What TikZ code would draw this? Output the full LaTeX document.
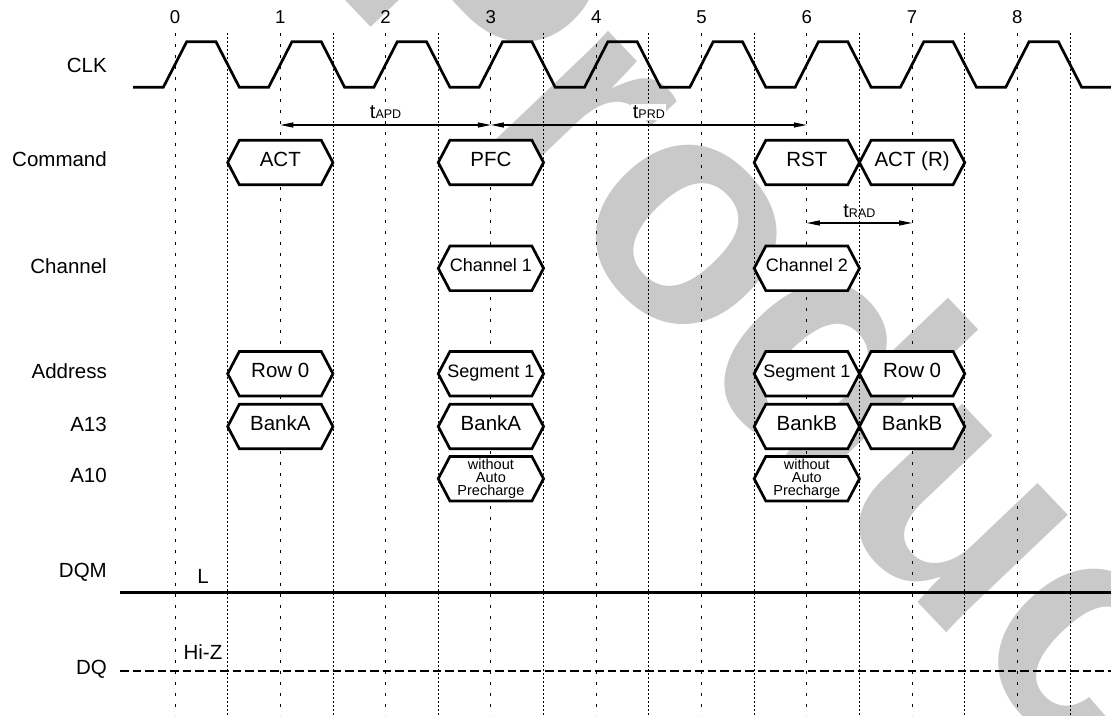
\documentclass[tikz,border=0pt]{standalone}
\usepackage{fontspec}
\setmainfont{Liberation Sans}
\usetikzlibrary{arrows.meta}
\newcommand{\hexsig}[5]{%
  \pgfmathsetmacro{\hxl}{175+105.3*(#2)}%
  \pgfmathsetmacro{\hxr}{\hxl+105.3}%
  \pgfmathsetmacro{\hxm}{\hxl+52.65}%
  \filldraw[hexline] (\hxl,#3) -- ({\hxl+11.7},{#3-22.3}) -- ({\hxr-11.7},{#3-22.3}) -- (\hxr,#3) -- ({\hxr-11.7},{#3+22.3}) -- ({\hxl+11.7},{#3+22.3}) -- cycle;
  \node[#4] (#1) at (\hxm,#3) {#5};
}
\begin{document}
\begin{tikzpicture}[x=1pt,y=-1pt,
  lbl/.style={font=\fontsize{20.5}{24}\selectfont, anchor=east, inner sep=0pt, text height=0.72em, text depth=0pt},
  num/.style={font=\fontsize{18.6}{20}\selectfont, inner sep=0pt, text height=0.72em, text depth=0pt},
  hexline/.style={line width=2.7pt, fill=white, draw=black, line join=miter},
  hextext/.style={font=\fontsize{20.5}{24}\selectfont, inner sep=0pt, text height=0.72em, text depth=0pt},
  hexmid/.style={font=\fontsize{18}{20}\selectfont, inner sep=0pt, text height=0.72em, text depth=0pt},
  hexsmall/.style={font=\fontsize{14.5}{13.3}\selectfont, inner sep=0pt, align=center},
  majorgrid/.style={line width=0.9pt, dash pattern=on 3pt off 8pt},
  minorgrid/.style={line width=0.9pt, dash pattern=on 2pt off 2pt},
  sig/.style={line width=2.7pt, line join=miter},
  dim/.style={line width=1.2pt, {Triangle[length=13pt,width=5pt]}-{Triangle[length=13pt,width=5pt]}},
  tlab/.style={font=\fontsize{20}{20}\selectfont, anchor=base, inner sep=1.5pt},
  wm/.style={font=\bfseries\fontsize{320}{320}\selectfont, text=black!21, inner sep=0pt}
]
\useasboundingbox (0,0) rectangle (1111,715);
\fill[white] (0,0) rectangle (1111,715);

% watermark
\begin{scope}
  \clip (0,0) rectangle (1111,715);
  \node[wm, rotate=-46.4, anchor=base west] (wmark) at (324,-22) {Product};
\end{scope}

% grid
\foreach \i in {0,...,8} {
  \draw[majorgrid] ({175+105.3*\i},33) -- ({175+105.3*\i},715);
  \draw[minorgrid] ({227.65+105.3*\i},33) -- ({227.65+105.3*\i},715);
}

% cycle numbers
\foreach \i in {0,...,8} {
  \node[num] (n\i) at ({175+105.3*\i},20) {\i};
}

% row labels
\node[lbl] (lclk) at (107,68.8) {CLK};
\node[lbl] (lcmd) at (107,162.8) {Command};
\node[lbl] (lch) at (107,269.5) {Channel};
\node[lbl] (ladr) at (107,374.5) {Address};
\node[lbl] (la13) at (107,428) {A13};
\node[lbl] (la10) at (107,479) {A10};
\node[lbl] (ldqm) at (107,574) {DQM};
\node[lbl] (ldq) at (107,670.7) {DQ};

% clock
\draw[sig] (133,87.3) \foreach \i in {0,...,8} {
  -- ({175+105.3*\i-11.7},87.3) -- ({175+105.3*\i+11.7},41.7)
  -- ({175+105.3*\i+40.95},41.7) -- ({175+105.3*\i+64.35},87.3)
} -- (1111,87.3);

% timing arrows
\coordinate (apdL) at (280.3,125);
\coordinate (apdR) at (490.9,125);
\coordinate (prdR) at (806.8,125);
\coordinate (radL) at (806.8,223);
\coordinate (radR) at (912.1,223);
\draw[dim] (apdL) -- (apdR);
\draw[dim] (apdR) -- (prdR);
\draw[dim] (radL) -- (radR);
\node[tlab] (tapd) at (385.6,118) {t{\fontsize{12.5}{12}\selectfont APD}};
\node[tlab, fill=white] (tprd) at (648.9,118) {t{\fontsize{12.5}{12}\selectfont PRD}};
\node[tlab] (trad) at (859.4,217) {t{\fontsize{12.5}{12}\selectfont RAD}};

% command row
\hexsig{cact}{0.5}{162.5}{hextext}{ACT}
\hexsig{cpfc}{2.5}{162.5}{hextext}{PFC}
\hexsig{crst}{5.5}{162.5}{hextext}{RST}
\hexsig{cactr}{6.5}{162.5}{hextext}{ACT (R)}

% channel row
\hexsig{chone}{2.5}{268.3}{hexmid}{Channel 1}
\hexsig{chtwo}{5.5}{268.3}{hexmid}{Channel 2}

% address row
\hexsig{arow}{0.5}{373.7}{hextext}{Row 0}
\hexsig{asegA}{2.5}{373.7}{hexmid}{Segment 1}
\hexsig{asegB}{5.5}{373.7}{hexmid}{Segment 1}
\hexsig{arowB}{6.5}{373.7}{hextext}{Row 0}

% A13 row
\hexsig{bA1}{0.5}{426.5}{hextext}{BankA}
\hexsig{bA2}{2.5}{426.5}{hextext}{BankA}
\hexsig{bB1}{5.5}{426.5}{hextext}{BankB}
\hexsig{bB2}{6.5}{426.5}{hextext}{BankB}

% A10 row
\hexsig{apA}{2.5}{478.7}{hexsmall}{without\\Auto\\Precharge}
\hexsig{apB}{5.5}{478.7}{hexsmall}{without\\Auto\\Precharge}

% DQM and DQ
\coordinate (dqmL) at (120,592.7);
\coordinate (dqmR) at (1111,592.7);
\draw[line width=2.7pt] (dqmL) -- (dqmR);
\node[hextext] (lvl) at (203,579.5) {L};
\coordinate (dqL) at (120,671);
\coordinate (dqR) at (1111,671);
\draw[line width=2.7pt, dash pattern=on 8.5pt off 4pt] (dqL) -- (dqR);
\node[hextext] (hiz) at (203,656) {Hi-Z};
\end{tikzpicture}
\end{document}
